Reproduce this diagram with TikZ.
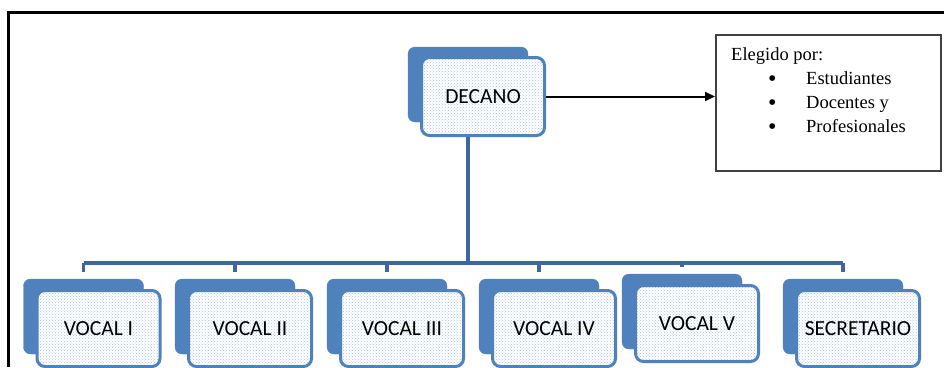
\documentclass[tikz,border=0pt]{standalone}
\usepackage{fontspec}
\setmainfont{Liberation Serif}
\newfontfamily\cardfont{Carlito}
\usetikzlibrary{positioning, arrows.meta, backgrounds, patterns, calc}
\definecolor{orgblue}{RGB}{79,129,189}
\definecolor{linkblue}{RGB}{62,103,158}
\definecolor{tintblue}{RGB}{172,196,228}
\newcommand{\bigbullet}{\raisebox{-2.5pt}{\fontsize{24}{24}\selectfont\textbullet}}

\begin{document}
\begin{tikzpicture}[
    x=1pt, y=-1pt,
    >={Triangle[length=10pt, width=9pt]},
    backcard/.style={draw=orgblue, fill=orgblue, rounded corners=7pt, minimum width=120pt, minimum height=75pt, inner sep=0pt},
    card/.style={draw=orgblue, line width=3pt, rounded corners=8pt, preaction={fill=white}, pattern=crosshatch dots, pattern color=tintblue, minimum width=123pt, minimum height=76pt, inner sep=0pt, font=\cardfont\fontsize{21.5}{24}\selectfont},
    link/.style={draw=linkblue, line width=3.2pt},
    frame/.style={draw=black, line width=3pt},
    listbox/.style={draw=black!75, line width=2pt, minimum width=225pt, minimum height=136pt, inner sep=0pt},
    listtxt/.style={font=\fontsize{18.5}{24}\selectfont, align=left, inner sep=0pt},
]
\useasboundingbox (0,0) rectangle (944,367);

% --- outer frame (open on the right and the bottom) ---
\draw[frame] (8,367) -- (8,12) -- (944,12);

% --- DECANO ---
\node[backcard] (decano-back) at (468, 84.5) {};
\node[card, minimum height=78pt] (decano) at ([shift={(15,12)}]decano-back.center) {DECANO};

% --- elected-by box ---
\node[listbox] (elegido) at (828.5, 103) {};
\node[listtxt, anchor=north west] (elegido-txt) at ([shift={(16,13)}]elegido.north west)
  {Elegido por:\\
   \hspace*{37pt}\makebox[38pt][l]{\bigbullet}Estudiantes\\
   \hspace*{37pt}\makebox[38pt][l]{\bigbullet}Docentes y\\
   \hspace*{37pt}\makebox[38pt][l]{\bigbullet}Profesionales};
\draw[->, line width=2pt] (decano.east) -- (decano.east -| elegido.west);

% --- vocales and secretario ---
\node[backcard] (v1-back)  at (83.5, 316.5) {};
\node[card] (v1) at ([shift={(15,12)}]v1-back.center) {VOCAL I};
\node[backcard] (v2-back)  at (235, 316.5) {};
\node[card] (v2) at ([shift={(15,12)}]v2-back.center) {VOCAL II};
\node[backcard] (v3-back)  at (387, 316.5) {};
\node[card] (v3) at ([shift={(15,12)}]v3-back.center) {VOCAL III};
\node[backcard] (v4-back)  at (539, 316.5) {};
\node[card] (v4) at ([shift={(15,12)}]v4-back.center) {VOCAL IV};
\node[backcard] (v5-back)  at (682, 311.5) {};
\node[card] (v5) at ([shift={(15,12)}]v5-back.center) {VOCAL V};
\node[backcard] (sec-back) at (843, 316.5) {};
\node[card] (sec) at ([shift={(15,12)}]sec-back.center) {SECRETARIO};

% --- tree connectors, behind the cards ---
\coordinate (bar) at (0, 263);
\begin{scope}[on background layer]
\draw[link] (decano-back.center) -- (decano-back.center |- bar);
\draw[link] (v1-back.north |- bar) -- (sec-back.north |- bar);
\foreach \n in {v1,v2,v3,v4,v5,sec}{
  \draw[link] (\n-back.north |- bar) -- ([yshift=7pt]\n-back.north);
}
\end{scope}

\end{tikzpicture}
\end{document}
